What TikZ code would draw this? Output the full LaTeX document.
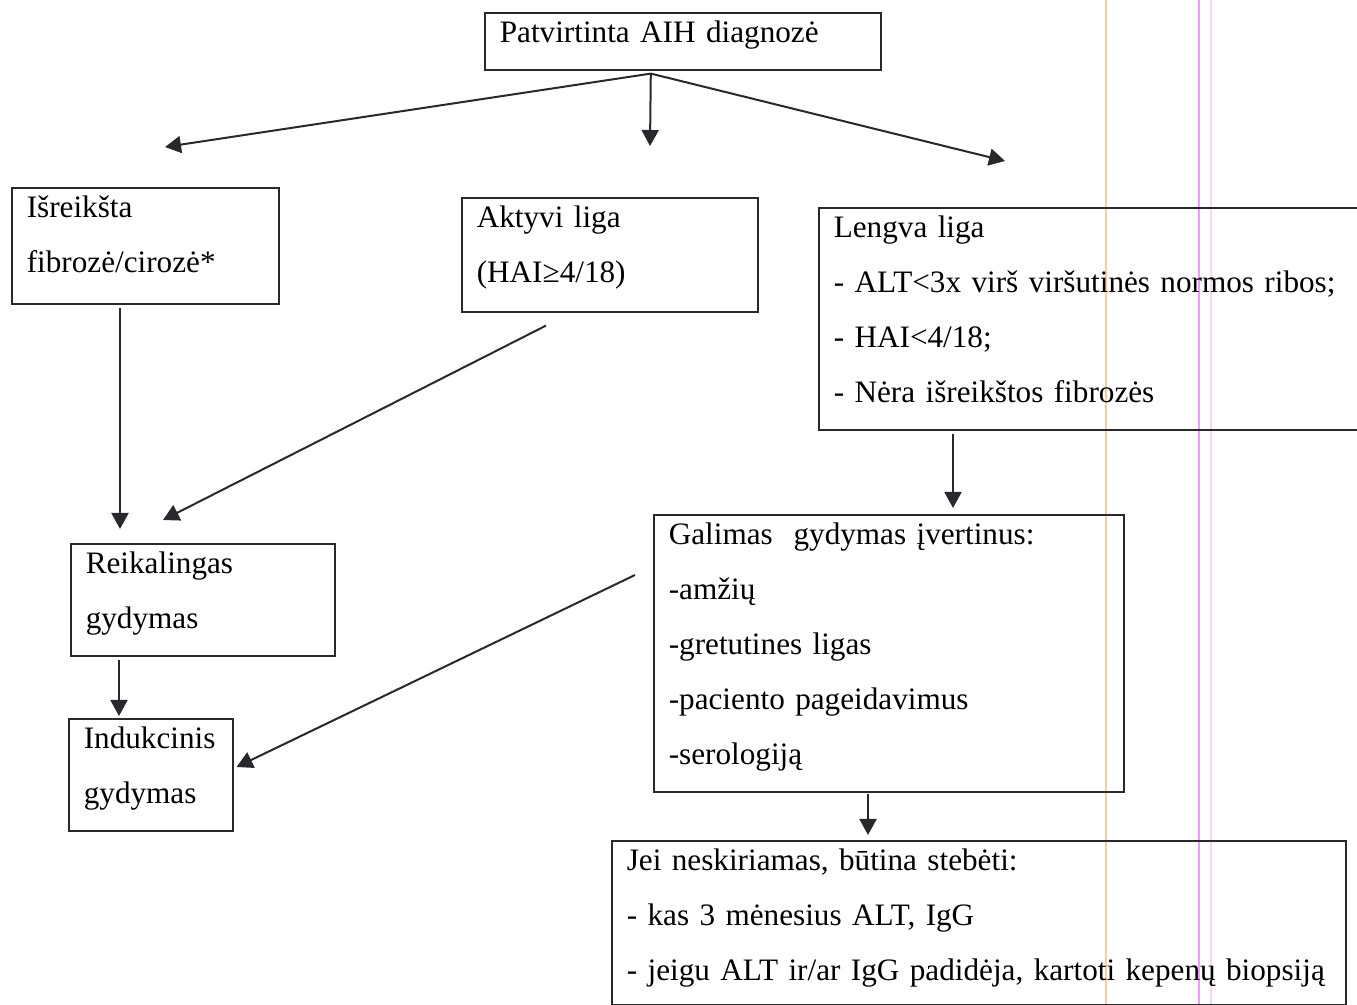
\documentclass[tikz,border=0pt]{standalone}
\usepackage{fontspec}
\setmainfont{Liberation Serif}
\usepackage{tikz}
\usetikzlibrary{arrows.meta,calc}

\newcommand{\boxfont}{\fontsize{15.6pt}{27.5pt}\selectfont\hyphenpenalty=10000\exhyphenpenalty=10000}
\definecolor{inkgray}{RGB}{40,40,45}
\definecolor{scanorange}{RGB}{250,205,160}
\definecolor{scanpink}{RGB}{235,160,245}
\definecolor{scanfaint}{RGB}{245,215,240}

\tikzset{
  box/.style 2 args={draw=inkgray, line width=0.8pt, anchor=north west,
    inner xsep=7.5pt, inner ysep=0pt, align=left, font=\boxfont,
    text width=#1, text height=15pt, text depth=#2},
  arr/.style={draw=inkgray, line width=1pt, -{Triangle[width=8.5pt,length=8pt]}}
}

\begin{document}
\begin{tikzpicture}[x=0.5pt,y=-0.5pt]

\useasboundingbox (0,0) rectangle (1357,1005);
\clip (0,0) rectangle (1357,1005);

% scan lines
\draw[scanorange, line width=0.8pt] (1106,0) -- (1106,1005);
\draw[scanpink, line width=0.8pt] (1199,0) -- (1199,1005);
\draw[scanfaint, line width=0.8pt] (1211,0) -- (1211,1005);

% top
\node[box={183pt}{13.5pt}] (diag) at (484,12) {Patvirtinta AIH diagnozė};

% second row
\node[box={118.5pt}{43pt}] (fibr) at (11,187) {Išreikšta\\fibrozė/cirozė*};
\node[box={133pt}{42pt}] (aktyvi) at (461,197) {Aktyvi liga\\(HAI≥4/18)};
\node[box={265pt}{96pt}] (lengva) at (818,207) {Lengva liga\\- ALT<3x virš viršutinės normos ribos;\\- HAI<4/18;\\- Nėra išreikštos fibrozės};

% left branch
\node[box={117pt}{41pt}] (reik) at (70,543) {Reikalingas\\gydymas};
\node[box={67pt}{41pt}] (induk) at (68,718) {Indukcinis\\gydymas};

% right branch
\node[box={220pt}{123.5pt}] (galim) at (653,514) {Galimas\ \ gydymas įvertinus:\\-amžių\\-gretutines ligas\\-paciento pageidavimus\\-serologiją};
\node[box={352pt}{67pt}] (jei) at (611,840) {Jei neskiriamas, būtina stebėti:\\- kas 3 mėnesius ALT, IgG\\- jeigu ALT ir/ar IgG padidėja, kartoti kepenų biopsiją};

% arrow ends
\coordinate (fork) at ($(diag.south)+(-32,3)$);
\coordinate (fibr in) at (165,147);
\coordinate (aktyvi in) at (650,146);
\coordinate (lengva in) at (1005,161);

% arrows
\draw[arr] (fork) -- (fibr in);
\draw[arr] (fork) -- (aktyvi in);
\draw[arr] (fork) -- (lengva in);
\draw[arr] ($(fibr.south west)+(109,3)$) -- ($(reik.north west)+(50,-14)$);
\draw[arr] ($(aktyvi.south west)+(85,13)$) -- ($(reik.north west)+(93,-23)$);
\draw[arr] ($(reik.south west)+(49,3)$) -- ($(induk.north west)+(51,-2)$);
\draw[arr] ($(lengva.south west)+(135,3)$) -- ($(galim.north west)+(300,-6)$);
\draw[arr] ($(galim.north west)+(-18,61)$) -- ($(induk.north east)+(3,49)$);
\draw[arr] ($(galim.south west)+(215,1)$) -- ($(jei.north west)+(257,-5)$);

\end{tikzpicture}
\end{document}
